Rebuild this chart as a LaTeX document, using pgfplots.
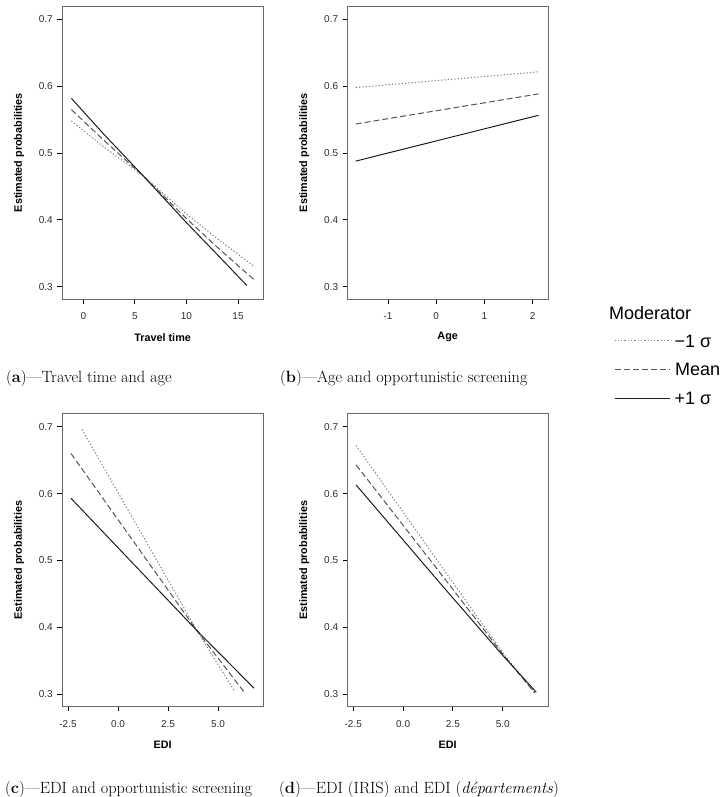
\documentclass[border=0pt]{standalone}
\usepackage{fontspec}
\usepackage{pgfplots}
\pgfplotsset{compat=1.18}
\newfontfamily\arial{Liberation Sans}
\definecolor{boxgray}{RGB}{105,105,105}
\definecolor{labgray}{RGB}{45,45,45}
\definecolor{cSolid}{RGB}{30,30,30}
\definecolor{cDash}{RGB}{85,85,85}
\definecolor{cDot}{RGB}{130,130,130}

\pgfplotsset{
  panel/.style={
    scale only axis, anchor=south west, width=201.3pt, height=293.3pt,
    ymin=0.2813, ymax=0.72,
    ytick={0.3,0.4,0.5,0.6,0.7}, yticklabels={0.3,0.4,0.5,0.6,0.7},
    axis line style={draw=boxgray, line width=0.9pt},
    tick align=outside, major tick length=4.7pt,
    xtick pos=left, ytick pos=left,
    major tick style={black, line width=0.9pt},
    tick label style={font=\arial\fontsize{10}{12}\selectfont, text=labgray},
    xticklabel style={inner sep=0pt, anchor=north, yshift=-8.5pt},
    yticklabel style={inner sep=0pt, anchor=east, xshift=-4.3pt},
    label style={font=\arial\bfseries\fontsize{10.8}{13}\selectfont},
    xlabel style={at={(axis description cs:0.5,-0.1296)}, anchor=center},
    ylabel style={at={(axis description cs:-0.2136,0.5)}, anchor=center},
    ylabel={Estimated probabilities},
  },
  sSolid/.style={cSolid, line width=1pt, solid},
  sDash/.style={cDash, line width=1pt, dash pattern=on 6pt off 3pt},
  sDot/.style={cDot, line width=1pt, dash pattern=on 1.3pt off 2pt},
}

\begin{document}
\begin{tikzpicture}
\useasboundingbox (0pt,0pt) rectangle (725pt,797pt);

% (a)
\begin{axis}[panel, at={(62pt,497.7pt)},
  xmin=-2.066, xmax=17.45,
  xtick={0,5,10,15}, xticklabels={0,5,10,15},
  xlabel={Travel time}]
\addplot[sDot] coordinates {(-1.16,0.548)(2,0.509)(5.8,0.466)(10,0.409)(13,0.372)(16.6,0.330)};
\addplot[sDash] coordinates {(-1.16,0.565)(2,0.519)(5.8,0.466)(10,0.402)(13,0.359)(16.6,0.310)};
\addplot[sSolid] coordinates {(-1.16,0.582)(2,0.528)(5.8,0.466)(10,0.396)(13,0.348)(15.85,0.302)};
\end{axis}

% (b)
\begin{axis}[panel, at={(347.3pt,497.7pt)}, width=200.7pt,
  xmin=-1.844, xmax=2.317,
  xtick={-1,0,1,2}, xticklabels={-1,0,1,2},
  xlabel={Age},
  legend style={draw=none, fill=none, inner sep=0pt, outer sep=0pt,
    row sep=15.8pt,
    at={(axis description cs:1.3289,-0.1187)}, anchor=north west,
    font=\arial\fontsize{18}{20}\selectfont, text=black,
    nodes={inner sep=0pt, text height=13pt, text depth=0pt}},
  legend cell align=left,
  legend image code/.code={\draw[#1] (0pt,0pt) -- (55pt,0pt);}]
\addplot[sDot] coordinates {(-1.67,0.598)(2.12,0.6215)};
\addlegendentry{\hspace*{4.5pt}−1 σ}
\addplot[sDash] coordinates {(-1.67,0.5435)(2.12,0.5885)};
\addlegendentry{\hspace*{5pt}Mean}
\addplot[sSolid] coordinates {(-1.67,0.488)(2.12,0.5565)};
\addlegendentry{\hspace*{4.5pt}+1 σ}
\end{axis}

% (c)
\begin{axis}[panel, at={(62pt,90.3pt)},
  xmin=-2.8, xmax=7.265,
  xtick={-2.5,0,2.5,5}, xticklabels={-2.5,0.0,2.5,5.0},
  xlabel={EDI}]
\addplot[sDot] coordinates {(-1.8,0.696)(3.95,0.395)(5.8,0.306)};
\addplot[sDash] coordinates {(-2.35,0.660)(3.95,0.395)(6.35,0.3015)};
\addplot[sSolid] coordinates {(-2.35,0.593)(3.95,0.395)(6.8,0.309)};
\end{axis}

% (d)
\begin{axis}[panel, at={(347.3pt,90.3pt)}, width=200.7pt,
  xmin=-2.8, xmax=7.27,
  xtick={-2.5,0,2.5,5}, xticklabels={-2.5,0.0,2.5,5.0},
  xlabel={EDI}]
\addplot[sDot] coordinates {(-2.36,0.672)(2,0.488)(5,0.362)(6.6,0.302)};
\addplot[sDash] coordinates {(-2.36,0.643)(2,0.476)(5,0.360)(6.6,0.302)};
\addplot[sSolid] coordinates {(-2.36,0.613)(2,0.461)(5,0.358)(6.68,0.303)};
\end{axis}

\node[anchor=base west, inner sep=0pt, font=\arial\fontsize{18}{20}\selectfont] at (609pt,477.9pt) {Moderator};

\node[anchor=base west, inner sep=0pt, font=\fontsize{16.3}{19}\selectfont] at (6pt,414pt) {(\textbf{a})---Travel time and age};
\node[anchor=base west, inner sep=0pt, font=\fontsize{16.3}{19}\selectfont] at (280pt,414pt) {(\textbf{b})---Age and opportunistic screening};
\node[anchor=base west, inner sep=0pt, font=\fontsize{16.3}{19}\selectfont] at (5pt,4pt) {(\textbf{c})---EDI and opportunistic screening};
\node[anchor=base west, inner sep=0pt, font=\fontsize{16.3}{19}\selectfont] at (279pt,4pt) {(\textbf{d})---EDI (IRIS) and EDI (\textit{départements})};
\end{tikzpicture}
\end{document}
